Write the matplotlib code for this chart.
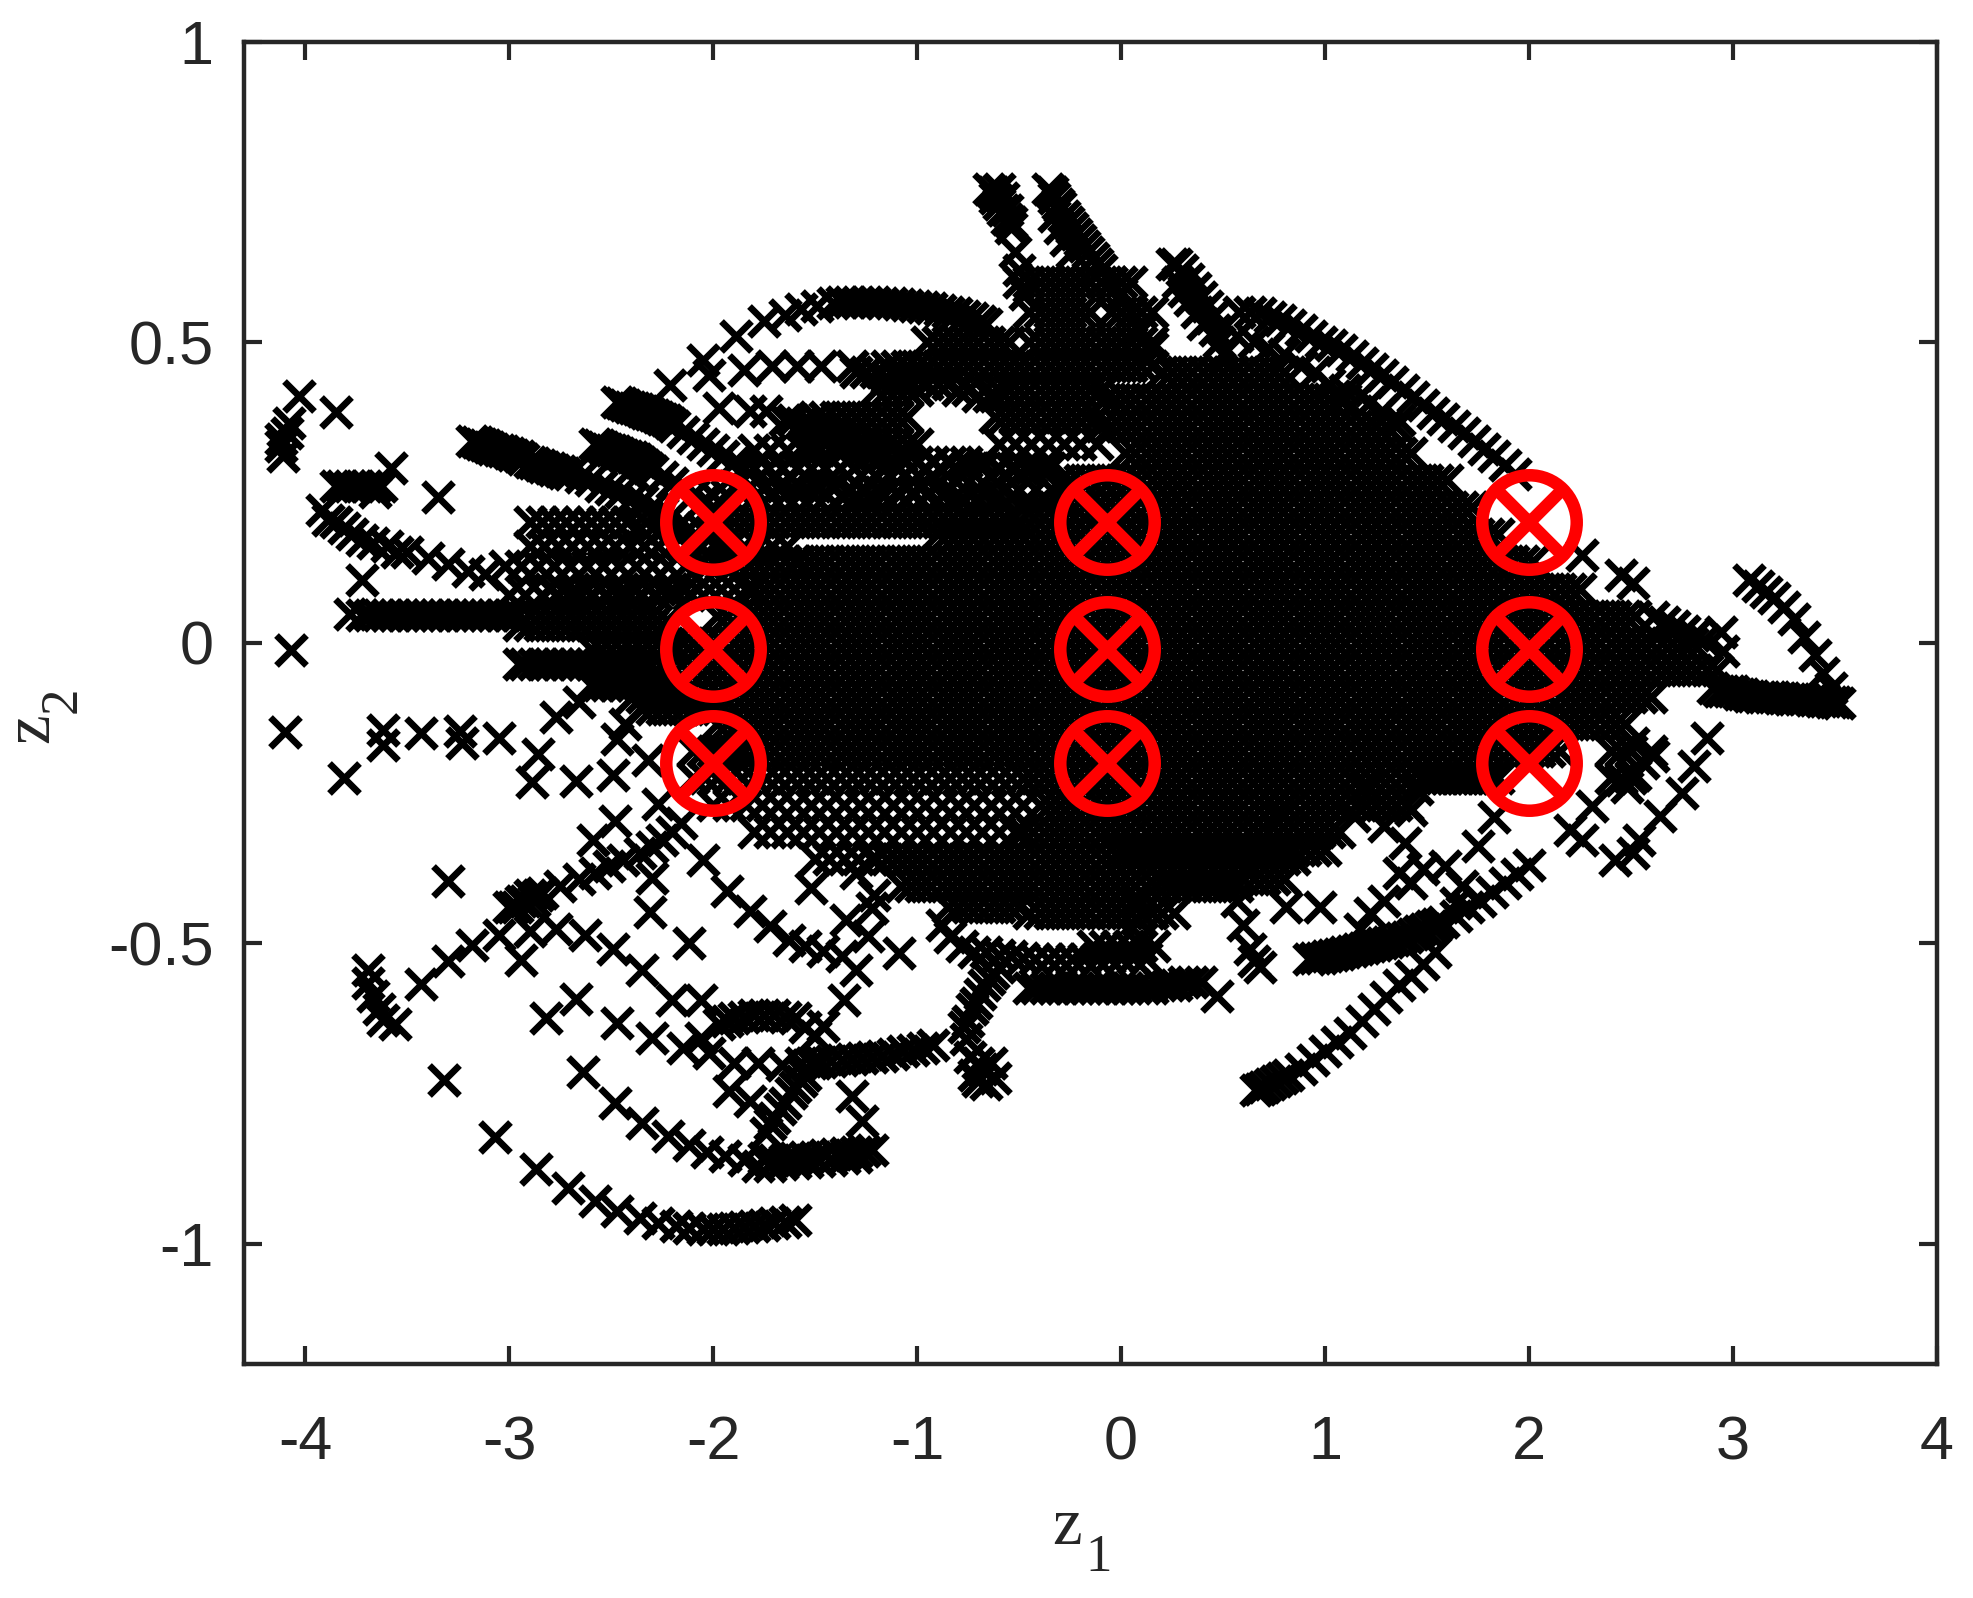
import matplotlib
matplotlib.use("Agg")
import matplotlib.pyplot as plt

# Rows of the dense core, read as z2 level -> z1 positions (estimated: single marks are unreadable there)
core_z2 = [.45,.405,.36,.315,.27,.225,.18,.135,.09,.045,0,-.045,-.09,-.135,-.18,-.225,-.27,-.315,-.36,-.405]
core_z1 = [
[.2,.25,.3,.35,.4,.45,.5,.55,.6,.65,.7,.75,.8],
[-.08,-.03,.02,.07,.12,.17,.22,.27,.32,.37,.42,.47,.52,.57,.62,.67,.72,.77,.82,.87,.92,.97,1.02,1.07,1.1],
[-.1,-.05,0,.05,.1,.15,.2,.25,.3,.35,.4,.45,.5,.55,.6,.65,.7,.75,.8,.85,.9,.95,1,1.05,1.1,1.15,1.2,1.25,1.3,1.35],
[.02,.07,.12,.17,.22,.27,.32,.37,.42,.47,.52,.57,.62,.67,.72,.77,.82,.87,.92,.97,1.02,1.07,1.12,1.17,1.22,1.27,1.32,1.37,1.42],
[-.3,-.25,-.2,-.15,-.1,-.05,0,.05,.1,.15,.2,.25,.3,.35,.4,.45,.5,.55,.6,.65,.7,.75,.8,.85,.9,.95,1,1.05,1.1,1.15,1.2,1.25,1.3,1.35,1.4,1.45,1.5,1.55,1.6],
[-.48,-.43,-.38,-.33,-.28,-.23,-.18,-.13,-.08,-.03,.02,.07,.12,.17,.22,.27,.32,.37,.42,.47,.52,.57,.62,.67,.72,.77,.82,.87,.92,.97,1.02,1.07,1.12,1.17,1.22,1.27,1.32,1.37,1.42,1.47,1.52,1.57,1.62,1.67,1.72],
[-.9,-.85,-.8,-.75,-.7,-.65,-.6,-.55,-.5,-.45,-.4,-.35,-.3,-.25,-.2,-.15,-.1,-.05,0,.05,.1,.15,.2,.25,.3,.35,.4,.45,.5,.55,.6,.65,.7,.75,.8,.85,.9,.95,1,1.05,1.1,1.15,1.2,1.25,1.3,1.35,1.4,1.45,1.5,1.55,1.6,1.65,1.7,1.75,1.8,1.85],
[-1.58,-1.53,-1.48,-1.43,-1.38,-1.33,-1.28,-1.23,-1.18,-1.13,-1.08,-1.03,-.98,-.93,-.88,-.83,-.78,-.73,-.68,-.63,-.58,-.53,-.48,-.43,-.38,-.33,-.28,-.23,-.18,-.13,-.08,-.03,.02,.07,.12,.17,.22,.27,.32,.37,.42,.47,.52,.57,.62,.67,.72,.77,.82,.87,.92,.97,1.02,1.07,1.12,1.17,1.22,1.27,1.32,1.37,1.42,1.47,1.52,1.57,1.62,1.67,1.72,1.77,1.82,1.87,1.92,1.97,2.02],
[-1.8,-1.75,-1.7,-1.65,-1.6,-1.55,-1.5,-1.45,-1.4,-1.35,-1.3,-1.25,-1.2,-1.15,-1.1,-1.05,-1,-.95,-.9,-.85,-.8,-.75,-.7,-.65,-.6,-.55,-.5,-.45,-.4,-.35,-.3,-.25,-.2,-.15,-.1,-.05,0,.05,.1,.15,.2,.25,.3,.35,.4,.45,.5,.55,.6,.65,.7,.75,.8,.85,.9,.95,1,1.05,1.1,1.15,1.2,1.25,1.3,1.35,1.4,1.45,1.5,1.55,1.6,1.65,1.7,1.75,1.8,1.85,1.9,1.95,2,2.05,2.1,2.15,2.2,2.25],
[-1.98,-1.93,-1.88,-1.83,-1.78,-1.73,-1.68,-1.63,-1.58,-1.53,-1.48,-1.43,-1.38,-1.33,-1.28,-1.23,-1.18,-1.13,-1.08,-1.03,-.98,-.93,-.88,-.83,-.78,-.73,-.68,-.63,-.58,-.53,-.48,-.43,-.38,-.33,-.28,-.23,-.18,-.13,-.08,-.03,.02,.07,.12,.17,.22,.27,.32,.37,.42,.47,.52,.57,.62,.67,.72,.77,.82,.87,.92,.97,1.02,1.07,1.12,1.17,1.22,1.27,1.32,1.37,1.42,1.47,1.52,1.57,1.62,1.67,1.72,1.77,1.82,1.87,1.92,1.97,2.02,2.07,2.12,2.17,2.22,2.27,2.32,2.37,2.42,2.47,2.52],
[-2.2,-2.15,-2.1,-2.05,-2,-1.95,-1.9,-1.85,-1.8,-1.75,-1.7,-1.65,-1.6,-1.55,-1.5,-1.45,-1.4,-1.35,-1.3,-1.25,-1.2,-1.15,-1.1,-1.05,-1,-.95,-.9,-.85,-.8,-.75,-.7,-.65,-.6,-.55,-.5,-.45,-.4,-.35,-.3,-.25,-.2,-.15,-.1,-.05,0,.05,.1,.15,.2,.25,.3,.35,.4,.45,.5,.55,.6,.65,.7,.75,.8,.85,.9,.95,1,1.05,1.1,1.15,1.2,1.25,1.3,1.35,1.4,1.45,1.5,1.55,1.6,1.65,1.7,1.75,1.8,1.85,1.9,1.95,2,2.05,2.1,2.15,2.2,2.25,2.3,2.35,2.4,2.45,2.5,2.55,2.6,2.65,2.7,2.75,2.8],
[-2.28,-2.23,-2.18,-2.13,-2.08,-2.03,-1.98,-1.93,-1.88,-1.83,-1.78,-1.73,-1.68,-1.63,-1.58,-1.53,-1.48,-1.43,-1.38,-1.33,-1.28,-1.23,-1.18,-1.13,-1.08,-1.03,-.98,-.93,-.88,-.83,-.78,-.73,-.68,-.63,-.58,-.53,-.48,-.43,-.38,-.33,-.28,-.23,-.18,-.13,-.08,-.03,.02,.07,.12,.17,.22,.27,.32,.37,.42,.47,.52,.57,.62,.67,.72,.77,.82,.87,.92,.97,1.02,1.07,1.12,1.17,1.22,1.27,1.32,1.37,1.42,1.47,1.52,1.57,1.62,1.67,1.72,1.77,1.82,1.87,1.92,1.97,2.02,2.07,2.12,2.17,2.22,2.27,2.32,2.37,2.42,2.47,2.52,2.57,2.62,2.67,2.72,2.77,2.82,2.87,2.92],
[-2.4,-2.35,-2.3,-2.25,-2.2,-2.15,-2.1,-2.05,-2,-1.95,-1.9,-1.85,-1.8,-1.75,-1.7,-1.65,-1.6,-1.55,-1.5,-1.45,-1.4,-1.35,-1.3,-1.25,-1.2,-1.15,-1.1,-1.05,-1,-.95,-.9,-.85,-.8,-.75,-.7,-.65,-.6,-.55,-.5,-.45,-.4,-.35,-.3,-.25,-.2,-.15,-.1,-.05,0,.05,.1,.15,.2,.25,.3,.35,.4,.45,.5,.55,.6,.65,.7,.75,.8,.85,.9,.95,1,1.05,1.1,1.15,1.2,1.25,1.3,1.35,1.4,1.45,1.5,1.55,1.6,1.65,1.7,1.75,1.8,1.85,1.9,1.95,2,2.05,2.1,2.15,2.2,2.25,2.3,2.35,2.4,2.45,2.5,2.55,2.6],
[-1.98,-1.93,-1.88,-1.83,-1.78,-1.73,-1.68,-1.63,-1.58,-1.53,-1.48,-1.43,-1.38,-1.33,-1.28,-1.23,-1.18,-1.13,-1.08,-1.03,-.98,-.93,-.88,-.83,-.78,-.73,-.68,-.63,-.58,-.53,-.48,-.43,-.38,-.33,-.28,-.23,-.18,-.13,-.08,-.03,.02,.07,.12,.17,.22,.27,.32,.37,.42,.47,.52,.57,.62,.67,.72,.77,.82,.87,.92,.97,1.02,1.07,1.12,1.17,1.22,1.27,1.32,1.37,1.42,1.47,1.52,1.57,1.62,1.67,1.72,1.77,1.82,1.87,1.92,1.97,2.02,2.07,2.12,2.17,2.22,2.27,2.32,2.37,2.42,2.47],
[-2.1,-2.05,-2,-1.95,-1.9,-1.85,-1.8,-1.75,-1.7,-1.65,-1.6,-1.55,-1.5,-1.45,-1.4,-1.35,-1.3,-1.25,-1.2,-1.15,-1.1,-1.05,-1,-.95,-.9,-.85,-.8,-.75,-.7,-.65,-.6,-.55,-.5,-.45,-.4,-.35,-.3,-.25,-.2,-.15,-.1,-.05,0,.05,.1,.15,.2,.25,.3,.35,.4,.45,.5,.55,.6,.65,.7,.75,.8,.85,.9,.95,1,1.05,1.1,1.15,1.2,1.25,1.3,1.35,1.4,1.45,1.5,1.55,1.6,1.65,1.7,1.75,1.8,1.85,1.9,1.95,2,2.05,2.1,2.15,2.4,2.45,2.5],
[-.48,-.43,-.38,-.33,-.28,-.23,-.18,-.13,-.08,-.03,.02,.07,.12,.17,.22,.27,.32,.37,.42,.47,.52,.57,.62,.67,.72,.77,.82,.87,.92,.97,1.02,1.07,1.12,1.17,1.22,1.27,1.32,1.37,1.42,1.47,1.52,1.57,1.62,1.67,1.72,1.77,1.82,2.4,2.45,2.5],
[-.4,-.35,-.3,-.25,-.2,-.15,-.1,-.05,0,.05,.1,.15,.2,.25,.3,.35,.4,.45,.5,.55,.6,.65,.7,.75,.8,.85,.9,.95,1,1.05,1.1,1.15,1.2,1.25,1.3,1.35,1.4],
[-.48,-.43,-.38,-.33,-.28,-.23,-.18,-.13,-.08,-.03,.02,.07,.12,.17,.22,.27,.32,.37,.42,.47,.52,.57,.62,.67,.72,.77,.82,.87,.92,.97,1.02,1.07],
[-1.2,-1.15,-1.1,-1.05,-1,-.95,-.9,-.85,-.8,-.75,-.7,-.65,-.6,-.55,-.5,-.45,-.4,-.35,-.3,-.25,-.2,-.15,-.1,-.05,0,.05,.1,.15,.2,.25,.3,.35,.4,.45,.5,.55,.6,.65,.7,.75,.8,.85],
[-1.08,-1.03,-.98,-.93,-.88,-.83,-.78,-.73,-.68,-.63,-.58,-.53,-.48,-.43,-.38,-.33,-.28,-.23,-.18,-.13,-.08,-.03,.02,.07,.12,.17,.22,.27,.32,.37,.42,.47,.52,.57],
]

# Mottled rows around the core, estimated the same way
fill_z2 = [.6,.55,.5,.46,.42,.375,.33,.29,.245,.2,.16,.135,.09,.03,-.01,-.11,-.18,-.225,-.27,-.315,-.36]
fill_z1 = [
[-.5,-.45,-.4,-.35,-.3,-.25,-.2,-.15,-.1,-.05,0,.05],
[-.45,-.4,-.35,-.3,-.25,-.2,-.15,-.05,0,.05,.1,.15],
[-.95,-.9,-.85,-.8,-.75,-.7,-.65,-.6,-.55,-.45,-.4,-.35,-.3,-.25,-.2,-.15,-.1,-.05,0,.05,.1,.15],
[-1.15,-1.1,-1.05,-1,-.95,-.9,-.85,-.8,-.75,-.7,-.65,-.6,-.55,-.5,-.45,-.4,-.35,-.3,-.25,-.2,-.15,-.1,-.05,0,.05,.1,.15],
[-1.2,-1.15,-1.1,-1.05,-1,-.6,-.55,-.5,-.45,-.4,-.35,-.3,-.25,-.2,-.15,-.1],
[-1.5,-1.45,-1.4,-1.35,-1.3,-1.25,-1.2,-1.15,-1.1,-1.05,-.62,-.57,-.52,-.47,-.42,-.37,-.32,-.27,-.22,-.17,-.12],
[-1.55,-1.5,-1.45,-1.4,-1.35,-1.3,-1.25,-1.2,-1.15,-1.1,-1.05,-1,-.6,-.52,-.44,-.36,-.28,-.2,-.12],
[-1.8,-1.73,-1.66,-1.59,-1.52,-1.45,-1.38,-1.31,-1.24,-1.17,-1.1,-1.03,-.96,-.89,-.82,-.75,-.68,-.61,-.54,-.47,-.4,-.35],
[-2,-1.93,-1.86,-1.79,-1.72,-1.65,-1.58,-1.51,-1.44,-1.37,-1.3,-1.23,-1.16,-1.09,-1.02,-.95,-.88,-.81,-.74,-.67,-.6,-.53],
[-1.95,-1.9,-1.85,-1.8,-1.75,-1.7,-1.65,-1.6,-1.55,-1.5,-1.45,-1.4,-1.35,-1.3,-1.25,-1.2,-1.15,-1.1,-1.05,-1,-.95,-.9,-.85,-.8,-.75,-.7,-.65,-.6,-.55,-.5],
[-2.9,-2.83,-2.76,-2.69,-2.62,-2.55,-2.48,-2.41,-2.34,-2.27,-2.2,-2.13,-2.06,-1.99,-1.92,-1.85,-1.78,-1.71,-1.64],
[-2.05,-2,-1.95,-1.9,-1.85,-1.8,-1.75,-1.7,-1.65,-1.6],
[-2.8,-2.74,-2.68,-2.62,-2.56,-2.5,-2.44,-2.38,-2.32,-2.26,-2.2,-2.14,-2.08,-2.02,-1.96,-1.9,-1.84],
[-2.95,-2.9,-2.85,-2.8,-2.75,-2.7,-2.65,-2.6,-2.55,-2.5,-2.45,-2.4,-2.35,-2.3,-2.25,-2.2],
[-2.6,-2.55,-2.5,-2.45,-2.4,-2.35,-2.3,-2.25,-2.2],
[-2.35,-2.3,-2.25,-2.2,-2.15,-2.1,-2.05,-2],
[-1.98,-1.93,-1.88],
[-2.1,-2.04,-1.98,-1.92,-1.86,-1.8,-1.74,-1.68,-1.62,-1.56,-1.5,-1.44,-1.38,-1.32,-1.26,-1.2,-1.14,-1.08,-1.02,-.96,-.9,-.84,-.78,-.72,-.66,-.6,-.54,1.5,1.55,1.6,1.65,1.7,1.75,1.8,1.85],
[-2,-1.92,-1.84,-1.76,-1.68,-1.6,-1.52,-1.44,-1.36,-1.28,-1.2,-1.12,-1.04,-.96,-.88,-.8,-.72,-.64,-.56,-.48],
[-1.8,-1.72,-1.64,-1.56,-1.48,-1.4,-1.32,-1.24,-1.16,-1.08,-1,-.92,-.84,-.76,-.68,-.6,-.52],
[-1.5,-1.43,-1.36,-1.29,-1.22],
]

# Isolated marks and visible arcs, left part (z1, z2)
sparse_z1 = [-4.03,-3.85,-4.08,-4.09,-4.12,-4.12,-4.11,-3.58,-3.85,-3.82,-3.78,-3.74,-3.7,-3.66,-3.63,-3.66,-3.35,-3.92,-3.72,-3.78,-4.07,-4.1,-3.62,-3.62,-3.43,-3.24,-3.23,-3.05,-3.81,-2.86,-2.77,-2.66,-2.89,-2.67,-2.49,-2.47,-2.43,-2.32,
 -3.3,-2.31,-2.12,-1.52,-1.93,-1.82,-1.72,-1.63,-1.55,-1.46,-1.37,-1.3,-1.36,-1.35,-1.22,-1.24,-1.09,-1.3,-1.21,-2.59,-2.48,-2.3,-2.05,-2.27,
 -3.05,-3.18,-3.3,-3.43,-2.94,-2.77,-2.9,-2.63,-2.49,-2.35,-2.2,-2.06,-2.67,-2.82,-2.47,-2.3,-2.15,-2.06,-2.02,-1.9,-1.78,-1.66,-1.92,-1.82,-3.32,-2.64,-2.48,-2.35,-2.22,-2.12,-2.03,-1.94,-1.85,-1.32,-1.27,-1.46,
 -3.07,-2.87,-2.71,-2.58,-2.47,-2.36,-2.27,-2.18,-2.12,-3.69,-3.69,-3.67,-3.64,-3.62,-3.56,
 -1.89,-1.75,-1.65,-1.57,-1.49,-1.41,-1.37,-1.33,-1.29,-1.25,-1.21,-1.17,-1.13,-1.09,-1.05,-1.01,-.97,-.93,-.89,-.85,-.81,-.77,-.73,-.69,-.66,
 -1.85,-1.71,-1.59,-1.47,-1.32,-2.05,-2.02,-1.97,-1.82,-1.74,-2.21]
sparse_z2 = [.41,.383,.365,.349,.338,.327,.31,.29,.26,.26,.26,.26,.26,.26,.26,.25,.242,.221,.105,.048,-.013,-.149,-.145,-.17,-.151,-.147,-.167,-.158,-.226,-.186,-.123,-.099,-.232,-.23,-.22,-.161,-.136,-.195,
 -.396,-.448,-.499,-.408,-.413,-.447,-.472,-.494,-.505,-.513,-.522,-.544,-.594,-.461,-.441,-.488,-.516,-.383,-.419,-.328,-.297,-.391,-.361,-.268,
 -.486,-.503,-.53,-.568,-.528,-.476,-.48,-.486,-.509,-.545,-.594,-.594,-.592,-.624,-.632,-.657,-.674,-.657,-.682,-.699,-.699,-.702,-.746,-.763,-.728,-.714,-.765,-.799,-.82,-.835,-.848,-.854,-.86,-.754,-.796,-.638,
 -.823,-.875,-.907,-.929,-.945,-.957,-.965,-.97,-.973,-.544,-.566,-.588,-.61,-.627,-.635,
 .51,.535,.545,.555,.56,.565,.566,.567,.567,.567,.566,.565,.565,.563,.562,.56,.558,.556,.553,.55,.548,.544,.54,.535,.53,
 .454,.46,.46,.46,.46,.47,.446,.39,.385,.385,.429]

# Thick streaks on the left
left_z1 = [-3.89,-3.85,-3.81,-3.77,-3.72,-3.67,-3.6,-3.55,-3.5,-3.4,-3.3,-3.2,-3.12,
 -3.72,-3.68,-3.64,-3.6,-3.56,-3.52,-3.48,-3.44,-3.4,-3.36,-3.32,-3.28,-3.24,-3.2,-3.16,-3.12,-3.08,-3.04,-3,-2.96,-2.9,-2.85,-2.8,-2.75,-2.7,-2.65,-2.6,-2.55,-2.5,-2.45,-2.4,-2.35,-2.3,
 -2.95,-2.92,-2.88,-2.84,-2.8,-2.76,-2.72,-2.68,-2.64,-2.6,-2.56,-2.52,-2.48,-2.44,-2.4,-2.36,-2.32,-2.6,-2.56,-2.52,-2.48,-2.44,-2.4,-2.36,-2.32,-2.28,-2.24,
 -3.18,-3.14,-3.1,-3.05,-3,-2.95,-2.9,-2.85,-2.8,-2.75,-2.7,-2.65,-2.6,-2.55,-2.5,-2.45,-2.4,-2.35,-2.3,-2.25,-2.2,
 -3.16,-3.12,-3.08,-3.03,-2.98,-2.93,-2.88,-2.83,-2.78,-2.73,
 -2.58,-2.54,-2.5,-2.46,-2.42,-2.38,-2.34,-2.3,-2.25,-2.2,-2.15,-2.1,-2.05,-2,
 -2.56,-2.52,-2.48,-2.44,-2.4,-2.36,-2.32,
 -2.47,-2.43,-2.39,-2.35,-2.31,-2.27,-2.23,-2.19,-2.15,-2.1,-2.05,-2,-1.95,-1.9,-1.85,
 -2.45,-2.41,-2.37,-2.33,-2.29,-2.25,-2.21,
 -2.9,-2.84,-2.78,-2.72,-2.66,-2.6,-2.54,-2.48,-2.42,-2.36,-2.3,-2.24,-2.18,-2.12,-2.06,-2,
 -3.02,-2.94,-2.86,-2.78,-2.7,-2.62,-2.54,-2.46,-2.38,-2.3,-2.22,-2.14,
 -3,-2.92,-2.84,-2.76,-2.68,-2.6,-2.52,-2.44,-2.36,-2.28,-2.2,-2.12,
 -1.65,-1.61,-1.57,-1.53,-1.49,-1.45,-1.41,-1.37,-1.33,-1.29,-1.25,-1.21,-1.17,-1.13,-1.09,
 -1.8,-1.72,-1.64,-1.56,-1.48,-1.4,-1.32,-1.24,-1.16,-1.08,-1,-.92,-.84,-.76,-.68,-.6,-.52,-.44,-.36,
 -1.9,-1.82,-1.74,-1.66,-1.58,-1.5,-1.42,-1.34,-1.26,-1.18,-1.1,-1.02,-.94,-.86,-.78,-.7,-.62,-.54,-.46,-.38,-.3,
 -1.3,-1.25,-1.2,-1.15,-1.1,-1.05,-1,-.95,-.9,-.85,-.8,-.75,-.7,-.65,-.62]
left_z2 = [.204,.2,.19,.18,.17,.165,.16,.15,.15,.14,.13,.12,.115,
 .046,.046,.046,.046,.046,.046,.046,.046,.046,.046,.046,.046,.046,.046,.046,.046,.046,.046,.046,.046,.046,.046,.046,.046,.046,.046,.046,.046,.046,.046,.046,.046,.046,
 -.035,-.035,-.035,-.035,-.035,-.035,-.035,-.035,-.035,-.035,-.035,-.035,-.035,-.035,-.035,-.035,-.035,-.07,-.07,-.07,-.07,-.07,-.07,-.07,-.07,-.07,-.07,
 .335,.33,.325,.32,.315,.31,.3,.295,.29,.285,.28,.275,.27,.26,.255,.25,.24,.235,.225,.215,.21,
 .333,.328,.322,.318,.312,.305,.298,.292,.288,.282,
 .33,.325,.32,.315,.31,.305,.295,.285,.275,.265,.255,.245,.235,.225,
 .328,.322,.318,.312,.308,.3,.29,
 .4,.395,.39,.385,.38,.375,.37,.36,.35,.34,.33,.32,.31,.3,.29,
 .398,.392,.388,.382,.378,.372,.365,
 .2,.2,.2,.2,.2,.2,.2,.2,.2,.19,.19,.19,.19,.19,.19,.18,
 .127,.127,.127,.127,.127,.127,.127,.127,.127,.127,.127,.127,
 .08,.08,.08,.08,.08,.08,.08,.08,.08,.08,.08,.08,
 .37,.37,.365,.36,.355,.35,.345,.34,.335,.33,.325,.315,.31,.3,.29,
 .32,.32,.32,.32,.32,.32,.31,.31,.31,.31,.3,.3,.3,.3,.3,.29,.29,.29,.29,
 .26,.26,.26,.26,.26,.26,.26,.25,.25,.25,.25,.25,.25,.25,.24,.24,.24,.24,.24,.24,.24,
 .45,.45,.45,.44,.44,.44,.44,.43,.43,.43,.42,.42,.41,.41,.41]

# Lower arcs (z1, z2)
low_z1 = [-3,-2.98,-2.96,-2.94,-2.92,-2.9,-2.88,-2.86,-2.84,-2.75,-2.66,-2.58,-2.51,-2.44,-2.36,-2.3,-2.25,-2.2,-2.16,
 -1.75,-1.7,-1.65,-1.6,-1.55,-1.5,-1.45,-1.4,-1.35,-1.3,-1.26,-1.22,-1.78,-1.72,-1.66,-1.6,-1.54,-1.48,-1.42,-1.36,-1.3,
 -1.74,-1.7,-1.65,-1.6,-1.55,-1.5,-1.72,-1.67,-1.62,-1.57,-1.97,-1.93,-1.9,-1.85,-1.8,-1.75,-1.7,-1.65,-1.6,-1.55,-1.5,
 -1.57,-1.52,-1.47,-1.42,-1.37,-1.32,-1.27,-1.22,-1.17,-1.12,-1.07,-1.02,-.97,-.92,
 -2.05,-2,-1.95,-1.9,-1.85,-1.8,-1.75,-1.7,-1.65,-1.6,
 -.76,-.74,-.72,-.7,-.66,-.62,-.7,-.68,-.64,-.77,-.73,-.69,-.65,-.6,-.75,-.71,-.67,-.63,
 -.45,-.41,-.37,-.33,-.29,-.25,-.21,-.17,-.13,-.09,-.05,-.01,.03,.07,.11,.15,.19,.23,.27,.31,.35,.39,.47,
 -.88,-.84,-.78,-.72,-.66,-.6,-.54,-.48,-.42,-.36,-.3,-.24,-.18,-.12,-.06,0,.06,.12,.16,.1,.04,-.02,-.08,-.14,
 .07,.08,.1,.56,.57,.6,.63,.65,.68,.81,.975,.26,
 .2,.25,.3,.35,.4,.45,.5,.55,.6,.65,.7,.75,.8,0,.05,.1,.15,.2,.25,.3,.35,.4,.45,.5,.55,.6,.65,.7,.75,.8,.85,.9,.95,1,.79,
 -.85,-.8,-.75,-.7,-.65,-.6,-.55,-.5,-.45,-.4,-.35,-.3,-.25,-.2,-.15,-.1,-.05,0,.05,.1,.15,.2]
low_z2 = [-.44,-.44,-.44,-.43,-.43,-.42,-.43,-.42,-.416,-.405,-.394,-.383,-.372,-.361,-.35,-.34,-.328,-.315,-.3,
 -.858,-.86,-.86,-.858,-.856,-.855,-.853,-.851,-.849,-.848,-.846,-.844,-.87,-.87,-.868,-.866,-.864,-.862,-.86,-.858,-.856,
 -.815,-.79,-.765,-.74,-.72,-.7,-.8,-.775,-.75,-.73,-.635,-.63,-.625,-.622,-.62,-.62,-.62,-.622,-.625,-.64,-.655,
 -.7,-.7,-.698,-.696,-.695,-.693,-.691,-.689,-.687,-.684,-.68,-.677,-.674,-.67,
 -.975,-.975,-.975,-.973,-.972,-.97,-.968,-.966,-.963,-.96,
 -.66,-.69,-.72,-.73,-.735,-.725,-.7,-.71,-.7,-.64,-.61,-.585,-.56,-.54,-.63,-.6,-.57,-.55,
 -.575,-.575,-.575,-.575,-.575,-.575,-.575,-.575,-.575,-.575,-.575,-.575,-.575,-.575,-.575,-.575,-.57,-.57,-.57,-.565,-.565,-.565,-.588,
 -.47,-.49,-.505,-.515,-.515,-.52,-.522,-.525,-.527,-.527,-.527,-.527,-.527,-.527,-.525,-.525,-.525,-.525,-.505,-.505,-.505,-.505,-.505,-.505,
 -.43,-.46,-.49,-.4,-.43,-.47,-.51,-.53,-.54,-.44,-.44,-.45,
 -.394,-.394,-.394,-.394,-.394,-.394,-.394,-.394,-.394,-.394,-.394,-.394,-.394,-.345,-.345,-.345,-.345,-.345,-.345,-.345,-.345,-.345,-.345,-.345,-.345,-.345,-.345,-.345,-.345,-.345,-.345,-.345,-.345,-.345,-.289,
 -.44,-.44,-.44,-.44,-.44,-.44,-.44,-.44,-.45,-.45,-.45,-.45,-.45,-.45,-.45,-.45,-.45,-.45,-.45,-.45,-.45,-.45]

# Right and top arcs (z1, z2)
right_z1 = [-.65,-.63,-.62,-.6,-.58,-.56,-.54,-.52,-.5,-.47,-.6,-.58,-.56,-.54,-.36,-.34,-.33,-.31,-.3,-.28,-.26,-.24,-.22,-.2,-.18,-.16,-.14,-.12,-.1,-.05,0,.05,.1,.15,-.33,-.3,-.27,-.24,
 .25,.27,.3,.33,.36,.39,.42,.44,.46,.48,.5,.28,.31,.34,.37,.4,
 .58,.63,.68,.73,.78,.83,.88,.93,.98,1.03,1.08,1.13,1.18,1.23,1.28,1.33,1.38,1.43,1.48,1.53,1.58,1.63,1.68,1.73,1.78,1.83,1.88,1.93,
 .57,.65,.72,.8,.88,.95,1.02,1.1,1.17,1.22,1.28,1.36,
 3.08,3.12,3.16,3.2,3.25,3.3,3.35,3.4,3.44,3.48,2.9,2.95,3,3.05,3.1,3.15,3.2,3.25,3.3,3.35,3.4,3.45,3.5,3.52,
 2.93,2.98,3.03,3.08,3.13,3.18,3.23,3.28,3.33,3.38,3.43,3.48,
 2.61,2.66,2.71,2.76,2.81,2.86,2.26,2.45,2.51,2.94,2.95,2.87,2.81,2.75,2.64,2.54,2.42,2.51,
 .92,.98,1.04,1.1,1.16,1.22,1.28,1.34,1.4,1.46,1.52,1.58,1.64,1.7,1.76,1.82,1.88,1.94,2,
 .95,1.01,1.07,1.13,1.19,1.25,1.31,1.37,1.43,1.49,1.55,
 .66,.7,.76,.82,.88,.94,1,1.06,1.12,1.18,1.24,1.3,1.36,1.42,1.48,1.54,.68,.73,.79,
 1.14,1.29,1.42,1.39,1.48,1.59,1.67,1.64,1.75,1.83,2.2,2.31,1.29,1.22,1.17,1.36,1.42,2.26,1.2,1.45,2.51,2.61,2.45,2.52,2.56,2.6,2.48]
right_z2 = [.755,.75,.74,.73,.72,.705,.69,.65,.62,.58,.755,.74,.72,.7,.755,.75,.74,.73,.725,.71,.7,.69,.68,.67,.66,.65,.64,.63,.62,.6,.58,.55,.52,.49,.71,.69,.67,.65,
 .63,.63,.62,.605,.59,.575,.56,.54,.52,.5,.48,.6,.585,.57,.55,.53,
 .55,.55,.548,.542,.536,.528,.52,.51,.5,.495,.486,.476,.466,.456,.446,.434,.42,.408,.396,.382,.372,.36,.348,.335,.322,.31,.295,.28,
 .51,.5,.49,.48,.46,.45,.43,.42,.41,.4,.385,.37,
 .105,.095,.085,.075,.06,.04,.01,-.02,-.05,-.075,-.075,-.08,-.08,-.085,-.088,-.09,-.09,-.092,-.093,-.094,-.095,-.097,-.098,-.1,
 -.08,-.08,-.085,-.088,-.09,-.09,-.092,-.093,-.094,-.095,-.097,-.098,
 .043,.035,.028,.02,.012,.004,.145,.113,.1,.018,-.014,-.158,-.206,-.25,-.289,-.328,-.361,-.35,
 -.527,-.524,-.52,-.515,-.51,-.505,-.5,-.495,-.49,-.48,-.472,-.465,-.455,-.44,-.43,-.415,-.4,-.385,-.37,
 -.525,-.522,-.518,-.513,-.508,-.503,-.498,-.492,-.485,-.476,-.468,
 -.745,-.74,-.73,-.72,-.71,-.695,-.68,-.665,-.65,-.63,-.61,-.59,-.57,-.555,-.535,-.515,-.742,-.735,-.725,
 -.289,-.305,-.278,-.333,-.377,-.372,-.405,-.433,-.339,-.29,-.311,-.272,-.43,-.45,-.477,-.383,-.4,-.328,-.239,-.244,-.167,-.189,-.228,-.22,-.2,-.18,-.24]

ref_z1 = [-2,-2,-2,-.07,-.07,-.07,2,2,2]
ref_z2 = [.2,-.01,-.2,.2,-.01,-.2,.2,-.01,-.2]

xtick_values = [-4,-3,-2,-1,0,1,2,3,4]
xtick_labels = ['-4','-3','-2','-1','0','1','2','3','4']
ytick_values = [-1,-.5,0,.5,1]
ytick_labels = ['-1','-0.5','0','0.5','1']

plt.rcParams['font.family'] = ['Liberation Sans', 'DejaVu Sans']
W, H = 1973, 1598
fig = plt.figure(figsize=(W/100, H/100), dpi=100)
ax = fig.add_axes([244/W, 1-1364/H, (1937-244)/W, (1364-41.5)/H])
ink = '#262626'
mark = dict(linestyle='none', marker='x', color='k', markersize=21.6, markeredgewidth=4.8)
for z, xs in zip(core_z2, core_z1):
    ax.plot(xs, [z]*len(xs), **mark)
for z, xs in zip(fill_z2, fill_z1):
    ax.plot(xs, [z]*len(xs), **mark)
ax.plot(sparse_z1, sparse_z2, **mark)
ax.plot(left_z1, left_z2, **mark)
ax.plot(low_z1, low_z2, **mark)
ax.plot(right_z1, right_z2, **mark)
ax.plot(ref_z1, ref_z2, linestyle='none', marker='o', mfc='none', mec='#ff0000', markersize=68, markeredgewidth=9)
ax.plot(ref_z1, ref_z2, linestyle='none', marker='x', color='#ff0000', markersize=50, markeredgewidth=9)
ax.set_xlim(-4.3, 4)
ax.set_ylim(-1.2, 1)
ax.set_xticks(xtick_values, xtick_labels)
ax.set_yticks(ytick_values, ytick_labels)
ax.tick_params(direction='in', length=13, width=3, top=True, right=True, labelsize=44, colors=ink)
ax.tick_params(axis='x', pad=37)
ax.tick_params(axis='y', pad=22)
for s in ax.spines.values():
    s.set_linewidth(3.2)
    s.set_color(ink)
serif = ['Liberation Serif', 'DejaVu Serif']
fig.text(1067/W, 1-1527/H, 'z', family=serif, fontsize=48, color=ink, ha='center', va='center')
fig.text(1099/W, 1-1558/H, '1', family=serif, fontsize=38, color=ink, ha='center', va='center')
fig.text(32/W, 1-728/H, 'z', family=serif, fontsize=48, color=ink, ha='center', va='center', rotation=90)
fig.text(63/W, 1-700/H, '2', family=serif, fontsize=38, color=ink, ha='center', va='center', rotation=90)
fig.savefig('out.png', dpi=100)
